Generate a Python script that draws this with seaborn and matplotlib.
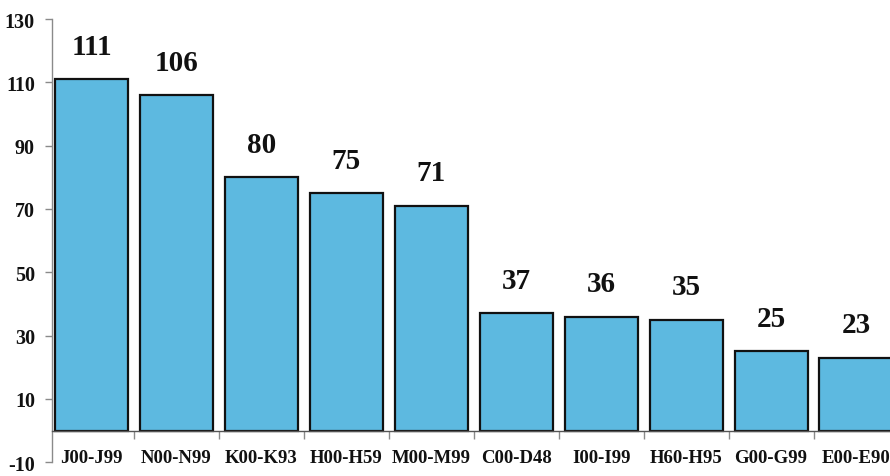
import matplotlib
matplotlib.use("Agg")
import matplotlib.pyplot as plt
import numpy as np
import pandas as pd
import seaborn as sns
from matplotlib.ticker import FixedLocator

# --- data ---
categories = ["J00-J99", "N00-N99", "K00-K93", "H00-H59", "M00-M99",
              "C00-D48", "I00-I99", "H60-H95", "G00-G99", "E00-E90"]
counts = [111, 106, 80, 75, 71, 37, 36, 35, 25, 23]
y_ticks = [-10, 10, 30, 50, 70, 90, 110, 130]

df = pd.DataFrame({"code": categories, "count": counts})

sns.set_theme(style="white")
plt.rcParams["font.family"] = ["Liberation Serif", "DejaVu Serif"]
plt.rcParams["font.weight"] = "bold"
plt.rcParams["axes.unicode_minus"] = False

fig = plt.figure(figsize=(8.9, 4.77), dpi=100)
ax = fig.add_axes([0.058, 0.029, 0.942, 0.929])

sns.barplot(data=df, x="code", y="count", color="#5DB9E0", saturation=1,
            edgecolor="#111111", linewidth=1.6, width=0.86, ax=ax)

ax.bar_label(ax.containers[0], fmt="%d", padding=14, fontsize=21,
             fontweight="bold", color="#111111")

ax.set_ylim(-10, 130)
ax.set_xlim(-0.47, 9.40)
ax.set_yticks(y_ticks)
ax.set_xlabel("")
ax.set_ylabel("")

for s in ["top", "right"]:
    ax.spines[s].set_visible(False)
ax.spines["left"].set_color("#8a8a8a")
ax.spines["left"].set_linewidth(1.0)
ax.spines["bottom"].set_position(("data", 0))
ax.spines["bottom"].set_color("#555555")
ax.spines["bottom"].set_linewidth(1.0)

ax.tick_params(axis="y", which="major", direction="out", length=5, width=1,
               color="#8a8a8a", labelsize=14.5, pad=7, left=True)
ax.tick_params(axis="x", which="major", length=0, labelsize=13.5, pad=13)
ax.xaxis.set_minor_locator(FixedLocator(np.arange(0.5, len(categories) - 0.5, 1)))
ax.tick_params(axis="x", which="minor", direction="out", length=6, width=1,
               color="#8a8a8a", bottom=True)
for lbl in ax.get_xticklabels() + ax.get_yticklabels():
    lbl.set_fontweight("bold")
    lbl.set_color("#111111")

fig.savefig("out.png", dpi=100)
